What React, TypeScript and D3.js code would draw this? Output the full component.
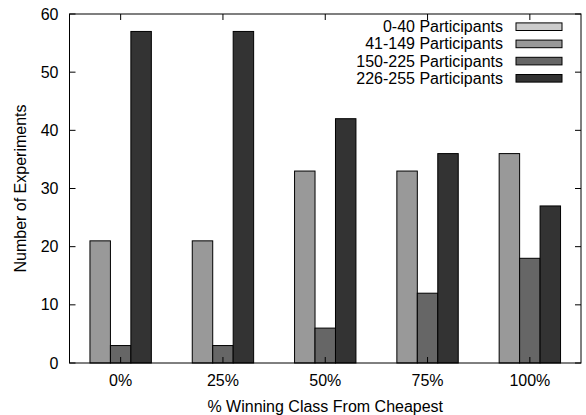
import React, { useEffect, useRef } from "react";
import * as d3 from "d3";

const categories = ["0%", "25%", "50%", "75%", "100%"];
const seriesNames = [
  "0-40 Participants",
  "41-149 Participants",
  "150-225 Participants",
  "226-255 Participants",
];
const p0to40 = [0, 0, 0, 0, 0];
const p41to149 = [21, 21, 33, 33, 36];
const p150to225 = [3, 3, 6, 12, 18];
const p226to255 = [57, 57, 42, 36, 27];
const yTicks = [0, 10, 20, 30, 40, 50, 60];
const colors = ["#cccccc", "#999999", "#666666", "#333333"];

const App = () => {
  const svgRef = useRef<SVGSVGElement>(null);
  const width = 586;
  const height = 415;

  useEffect(() => {
    const svg = d3.select(svgRef.current);
    svg.selectAll("*").remove();

    const margin = { top: 14, right: 5, bottom: 52, left: 69.5 };
    const x0 = margin.left;
    const x1 = width - margin.right;
    const y0 = height - margin.bottom;
    const y1 = margin.top;
    const font = "'Liberation Sans', Arial, sans-serif";

    const series = [p0to40, p41to149, p150to225, p226to255];

    // category band, then 5 slots inside each (4 series + empty gap)
    const xScale = d3.scaleBand().domain(categories).range([x0, x1]).padding(0);
    const slot = d3
      .scaleBand<number>()
      .domain([0, 1, 2, 3, 4])
      .range([0, xScale.bandwidth()]);
    const yScale = d3.scaleLinear().domain([0, 60]).range([y0, y1]);

    // bars
    series.forEach((vals, si) => {
      svg
        .append("g")
        .selectAll("rect")
        .data(vals)
        .enter()
        .append("rect")
        .attr("x", (d, i) => (xScale(categories[i]) as number) + (slot(si) as number))
        .attr("y", (d) => yScale(d))
        .attr("width", slot.bandwidth())
        .attr("height", (d) => y0 - yScale(d))
        .attr("fill", colors[si])
        .attr("stroke", "#000")
        .attr("stroke-width", 1);
    });

    // frame
    svg
      .append("rect")
      .attr("x", x0)
      .attr("y", y1)
      .attr("width", x1 - x0)
      .attr("height", y0 - y1)
      .attr("fill", "none")
      .attr("stroke", "#000")
      .attr("stroke-width", 1);

    // y ticks (inner, mirrored)
    const tickLen = 6;
    yTicks.forEach((t) => {
      const y = yScale(t);
      svg.append("line").attr("x1", x0).attr("x2", x0 + tickLen).attr("y1", y).attr("y2", y).attr("stroke", "#000");
      svg.append("line").attr("x1", x1).attr("x2", x1 - tickLen).attr("y1", y).attr("y2", y).attr("stroke", "#000");
      svg
        .append("text")
        .attr("x", x0 - 11)
        .attr("y", y + 5.5)
        .attr("text-anchor", "end")
        .style("font-family", font)
        .style("font-size", "16px")
        .text(t);
    });

    // x ticks (inner, mirrored) and labels
    categories.forEach((c) => {
      const x = (xScale(c) as number) + xScale.bandwidth() / 2;
      svg.append("line").attr("x1", x).attr("x2", x).attr("y1", y0).attr("y2", y0 - tickLen).attr("stroke", "#000");
      svg.append("line").attr("x1", x).attr("x2", x).attr("y1", y1).attr("y2", y1 + tickLen).attr("stroke", "#000");
      svg
        .append("text")
        .attr("x", x)
        .attr("y", y0 + 23)
        .attr("text-anchor", "middle")
        .style("font-family", font)
        .style("font-size", "16px")
        .text(c);
    });

    // axis titles
    svg
      .append("text")
      .attr("x", (x0 + x1) / 2)
      .attr("y", height - 3)
      .attr("text-anchor", "middle")
      .style("font-family", font)
      .style("font-size", "16px")
      .text("% Winning Class From Cheapest");

    svg
      .append("text")
      .attr("transform", `translate(26, ${(y0 + y1) / 2}) rotate(-90)`)
      .attr("text-anchor", "middle")
      .style("font-family", font)
      .style("font-size", "16px")
      .text("Number of Experiments");

    // legend
    const legend = svg.append("g");
    seriesNames.forEach((name, i) => {
      const cy = 26.7 + i * 17.2;
      legend
        .append("text")
        .attr("x", 503)
        .attr("y", cy + 5.5)
        .attr("text-anchor", "end")
        .style("font-family", font)
        .style("font-size", "16px")
        .text(name);
      legend
        .append("rect")
        .attr("x", 516)
        .attr("y", cy - 3.8)
        .attr("width", 46)
        .attr("height", 7.6)
        .attr("fill", colors[i])
        .attr("stroke", "#000")
        .attr("stroke-width", 1);
    });
  }, []);

  return (
    <svg
      ref={svgRef}
      width={width}
      height={height}
      style={{ position: "absolute", left: 0, top: 0, background: "#fff" }}
    ></svg>
  );
};

export default App;
